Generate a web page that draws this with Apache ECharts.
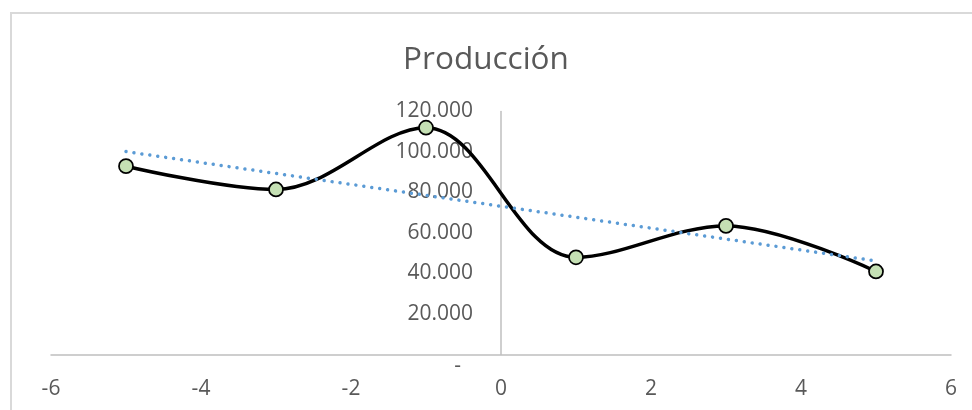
<!DOCTYPE html>
<html>
<head>
<meta charset="utf-8">
<script src="https://cdn.jsdelivr.net/npm/echarts@6/dist/echarts.min.js"></script>
<style>
  html, body { margin: 0; padding: 0; background: #ffffff; }
  #chart { width: 972px; height: 410px; }
</style>
</head>
<body>
<div id="chart"></div>
<script>
// Production values per period
const periods = [-5, -3, -1, 1, 3, 5];
const produccion = [93000, 81500, 112000, 48000, 63500, 41000];

// Linear trend end points
const trendX = [-5, 5];
const trendY = [100200, 46200];

// Axis ticks
const xTicks = { min: -6, max: 6, interval: 2 };
const yTicks = { min: 0, max: 120000, interval: 20000 };

const FONT = "'Open Sans', sans-serif";
const TEXT = '#595959';
const AXIS = '#bfbfbf';

// Plot area
const GRID = { left: 51, right: 21, top: 111.5, bottom: 55.5 };
const CHART_W = 972;
const plotW = CHART_W - GRID.left - GRID.right;
// The vertical axis sits where x = 0
const yAxisShift = plotW * (0 - xTicks.min) / (xTicks.max - xTicks.min);

function fmtMiles(v) {
  if (v === 0) return '{z|-}';
  return String(v).replace(/\B(?=(\d{3})+(?!\d))/g, '.');
}

const chart = echarts.init(document.getElementById('chart'), null, { renderer: 'canvas' });

chart.setOption({
  animation: false,
  backgroundColor: '#ffffff',
  title: {
    text: 'Producción',
    left: 'center',
    top: 39,
    textStyle: { fontFamily: FONT, fontSize: 31.5, fontWeight: 'normal', color: TEXT }
  },
  graphic: [{
    type: 'rect',
    shape: { x: 11, y: 13, width: 1000, height: 500 },
    style: { fill: 'none', stroke: '#d9d9d9', lineWidth: 2 },
    silent: true
  }],
  grid: Object.assign({ containLabel: false, outerBoundsMode: 'none' }, GRID),
  xAxis: {
    type: 'value',
    min: xTicks.min, max: xTicks.max, interval: xTicks.interval,
    axisLine: { show: true, onZero: true, lineStyle: { color: AXIS, width: 1.5 } },
    axisTick: { show: false },
    splitLine: { show: false },
    axisLabel: { color: TEXT, fontFamily: FONT, fontSize: 21, margin: 24 }
  },
  yAxis: {
    type: 'value',
    position: 'left',
    offset: -yAxisShift,
    min: yTicks.min, max: yTicks.max, interval: yTicks.interval,
    axisLine: { show: true, onZero: false, lineStyle: { color: AXIS, width: 1.5 } },
    axisTick: { show: false },
    splitLine: { show: false },
    axisLabel: {
      color: TEXT, fontFamily: FONT, fontSize: 21, margin: 28,
      formatter: fmtMiles,
      rich: { z: { color: TEXT, fontFamily: FONT, fontSize: 21, padding: [24, 12, 0, 0] } }
    }
  },
  series: [
    {
      name: 'Producción',
      type: 'line',
      data: periods.map((x, i) => [x, produccion[i]]),
      smooth: 0.35,
      symbol: 'circle',
      symbolSize: 14,
      itemStyle: { color: '#c5e0b4', borderColor: '#000000', borderWidth: 1.75 },
      lineStyle: { color: '#000000', width: 3.5 },
      z: 2
    },
    {
      name: 'Tendencia',
      type: 'line',
      data: trendX.map((x, i) => [x, trendY[i]]),
      symbol: 'none',
      lineStyle: { color: '#5b9bd5', width: 3.5, type: [0.01, 8], cap: 'round' },
      z: 3
    }
  ]
});
</script>
</body>
</html>
